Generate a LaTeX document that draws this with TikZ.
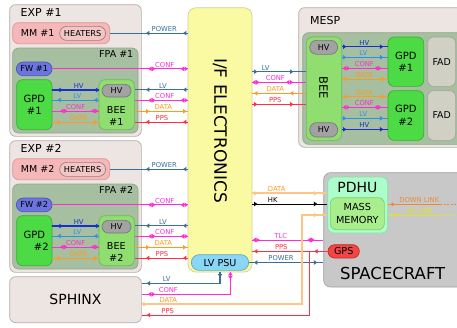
\documentclass[tikz,border=0pt]{standalone}
\usepackage{fontspec}
\setmainfont{DejaVu Sans}
\usetikzlibrary{arrows.meta,decorations.markings}

\definecolor{outerF}{HTML}{ECE5E2}\definecolor{outerD}{HTML}{B5ADAB}
\definecolor{mmF}{HTML}{F5B7B7}\definecolor{mmD}{HTML}{E09595}
\definecolor{htF}{HTML}{F3C6C6}\definecolor{htD}{HTML}{9A8080}
\definecolor{fpaF}{HTML}{A6BFA0}\definecolor{fpaD}{HTML}{8EAA88}
\definecolor{fwF}{HTML}{6C74E0}\definecolor{fwD}{HTML}{4C54B8}
\definecolor{gpdF}{HTML}{4DDB45}\definecolor{gpdD}{HTML}{38B032}
\definecolor{beeF}{HTML}{90DD70}\definecolor{beeD}{HTML}{6CBB55}
\definecolor{hvF}{HTML}{A2A2A2}\definecolor{hvD}{HTML}{7A7A7A}
\definecolor{ifF}{HTML}{FAFAA2}\definecolor{ifD}{HTML}{D2D296}
\definecolor{psuF}{HTML}{8AD6F6}\definecolor{psuD}{HTML}{5FA8CC}
\definecolor{fadF}{HTML}{D0D0C4}\definecolor{fadD}{HTML}{A5A59A}
\definecolor{scF}{HTML}{C8C8C8}\definecolor{scD}{HTML}{A2A2A2}
\definecolor{pdhuF}{HTML}{ABFDCB}\definecolor{pdhuD}{HTML}{8ADDAA}
\definecolor{mmemF}{HTML}{A8EE8C}\definecolor{mmemD}{HTML}{86CC6A}
\definecolor{gpsF}{HTML}{F24545}\definecolor{gpsD}{HTML}{C82828}
\definecolor{cPow}{HTML}{3B6F98}
\definecolor{cConf}{HTML}{FF2ED0}
\definecolor{cData}{HTML}{FF9A1E}
\definecolor{cDataL}{HTML}{FFC585}
\definecolor{cPps}{HTML}{FF3040}
\definecolor{cHv}{HTML}{1A2ED0}
\definecolor{cLv}{HTML}{2E90EE}
\definecolor{cDown}{HTML}{EE8A33}
\definecolor{cUp}{HTML}{E2E21E}

\newcommand\fsz[2]{\fontsize{#1}{#2}\selectfont}
\newcommand\arF{\arrow{Triangle[length=3.4pt,width=4.4pt]}}
\newcommand\arB{\arrow{Triangle[length=3.4pt,width=4.4pt,reversed]}}
\newcommand\arD{\arrow{Triangle[length=3.4pt,width=4.4pt,reversed]}\pgftransformxshift{3.8pt}\arrow{Triangle[length=3.4pt,width=4.4pt]}}
\newcommand\lab[5]{\node[lblst,text=#1] (#2) at (#3,#4-1.6) {#5};}

\tikzset{
 box/.style={draw,line width=0.7pt,rounded corners=5pt,inner sep=0pt,anchor=north west},
 outer/.style={fill=outerF,draw=outerD},
 mmst/.style={fill=mmF,draw=mmD},
 heat/.style={fill=htF,draw=htD},
 fpa/.style={fill=fpaF,draw=fpaD},
 fw/.style={fill=fwF,draw=fwD},
 gpd/.style={fill=gpdF,draw=gpdD},
 bee/.style={fill=beeF,draw=beeD},
 hvst/.style={fill=hvF,draw=hvD},
 ifst/.style={fill=ifF,draw=ifD},
 psu/.style={fill=psuF,draw=psuD},
 fad/.style={fill=fadF,draw=fadD},
 scst/.style={fill=scF,draw=scD},
 pdhu/.style={fill=pdhuF,draw=pdhuD},
 mmem/.style={fill=mmemF,draw=mmemD},
 gps/.style={fill=gpsF,draw=gpsD},
 ln/.style={line width=0.9pt},
 lnb/.style={line width=1.2pt},
 lnt/.style={line width=1.8pt},
 mk/.style n args={3}{postaction={decorate,decoration={markings,mark=at position #1 with {#3},mark=at position #2 with {#3}}}},
 mkone/.style 2 args={postaction={decorate,decoration={markings,mark=at position #1 with {#2}}}},
 lblst/.style={font=\fsz{6.8}{7},inner sep=0pt,anchor=base},
}

\begin{document}
\begin{tikzpicture}[x=1pt,y=-1pt]
\useasboundingbox (0,0) rectangle (457,327);
\fill[white] (0,0) rectangle (457,327);

% ---------- I/F electronics ----------
\node[box,ifst,minimum width=64pt,minimum height=264.4pt,rounded corners=8pt] (if) at (187.7,7.3) {};
\node[rotate=-90,inner sep=0pt,font=\fsz{17}{20}] (ift) at (220,130.5) {I/F ELECTRONICS};
\node[box,psu,minimum width=57.3pt,minimum height=15.7pt,rounded corners=7.8pt,font=\fsz{9.6}{11}] (psu) at (191,254.3) {LV PSU};

% ---------- EXP #1 / #2 ----------
\foreach \i/\o/\h in {1/0/0,2/136/14}{
\begin{scope}[shift={(0,\o)}]
\node[box,outer,minimum width=131.7pt,minimum height=131.7pt,rounded corners=6pt] (exp\i) at (9.3,4.3) {};
\node[anchor=base west,inner sep=0pt,font=\fsz{11}{13}] (expt\i) at (20.5,16) {EXP \#\i};
\node[box,mmst,minimum width=97pt,minimum height=21pt,rounded corners=6pt] (mm\i) at (12.3,22.3) {};
\node[anchor=base west,inner sep=0pt,font=\fsz{9.5}{11}] (mmt\i) at (20.7,36.7) {MM \#\i};
\node[box,heat,minimum width=46pt,minimum height=14pt,rounded corners=7pt,font=\fsz{8.2}{10}] (ht\i) at (59.3,26) {HEATERS};
\node[box,fpa,minimum width=125.4pt,minimum height=85pt,rounded corners=6pt] (fpa\i) at (12.3,47.7) {};
\node[anchor=base east,inner sep=0pt,font=\fsz{9.5}{11}] (fpat\i) at (133.5,57.3) {FPA \#\i};
\node[box,fw,minimum width=35.7pt,minimum height=13.6pt,rounded corners=6.8pt,font=\fsz{8.3}{10}] (fw\i) at (16,61.7) {FW \#\i};
\node[box,gpd,minimum width=35.4pt,minimum height=50pt,rounded corners=6pt,align=center,font=\fsz{10}{12.5}] (gpd\i) at (16.3,79.3) {GPD\\\hspace*{\h pt}\#\i};
\node[box,bee,minimum width=35.3pt,minimum height=50pt,rounded corners=6pt] (bee\i) at (98.7,79.3) {};
\node[align=center,inner sep=0pt,font=\fsz{9.6}{12}] (beet\i) at (116.3,115.5) {BEE\\\#\i};
\node[box,hvst,minimum width=29pt,minimum height=12.7pt,rounded corners=6.3pt,font=\fsz{8.1}{10}] (hv\i) at (101.7,84) {HV};
% external lines
\draw[cPow,lnb,mk={4.7pt}{41.7pt}{\arF}] (if.west |- mm\i.east) -- (mm\i.east);
\draw[cConf,ln,mk={3.2pt}{35.7pt}{\arD}] (if.west |- fw\i.east) -- (fw\i.east);
\draw[cPow,lnb,mk={4.7pt}{41.7pt}{\arF}] (if.west |- 0,89.7) -- (bee\i.east |- 0,89.7);
\draw[cConf,ln,mk={3.2pt}{35.7pt}{\arD}] (if.west |- 0,100.3) -- (bee\i.east |- 0,100.3);
\draw[cData,ln,mk={4.7pt}{41.7pt}{\arB}] (if.west |- 0,111.3) -- (bee\i.east |- 0,111.3);
\draw[cPps,ln,mk={4.7pt}{41.7pt}{\arF}] (if.west |- 0,122) -- (bee\i.east |- 0,122);
% internal lines
\draw[cHv,lnb,mk={4.7pt}{41.4pt}{\arF}] (bee\i.west |- 0,90) -- (gpd\i.east |- 0,90);
\draw[cLv,ln,mk={4.7pt}{41.4pt}{\arF}] (bee\i.west |- 0,100) -- (gpd\i.east |- 0,100);
\draw[cConf,ln,mk={3.7pt}{34.7pt}{\arD}] (bee\i.west |- 0,111) -- (gpd\i.east |- 0,111);
\draw[cData,ln,mk={4.7pt}{41.4pt}{\arB}] (bee\i.west |- 0,122) -- (gpd\i.east |- 0,122);
% labels
\lab{cPow}{lp\i}{164.3}{32.7}{POWER}
\lab{cConf}{lcf\i}{164.7}{68.7}{CONF}
\lab{cPow}{llv\i}{163}{89.7}{LV}
\lab{cConf}{lcb\i}{164.7}{100.3}{CONF}
\lab{cData}{ldb\i}{163.3}{111.3}{DATA}
\lab{cPps}{lpp\i}{162}{122}{PPS}
\lab{cHv}{ihv\i}{78.7}{90}{HV}
\lab{cLv}{ilv\i}{77.3}{100}{LV}
\lab{cConf}{icf\i}{75.7}{111}{CONF}
\lab{cData}{idt\i}{78.7}{122}{DATA}
\end{scope}
}

% ---------- SPHINX ----------
\node[box,outer,minimum width=131.7pt,minimum height=46pt,rounded corners=6pt,font=\fsz{14}{16}] (sphinx) at (9.3,276.3) {SPHINX};

% ---------- MESP ----------
\node[box,outer,minimum width=180pt,minimum height=139.7pt,rounded corners=6pt] (mesp) at (298.3,7.3) {};
\node[anchor=base west,inner sep=0pt,font=\fsz{11}{13}] (mespt) at (310,24.7) {MESP};
\node[box,fpa,minimum width=170pt,minimum height=111.7pt,rounded corners=6pt] (mfpa) at (302.3,32.3) {};
\node[box,bee,minimum width=35.3pt,minimum height=103.3pt,rounded corners=6pt] (mbee) at (306,36.7) {};
\node[rotate=-90,inner sep=0pt,font=\fsz{11.5}{13}] (mbeet) at (323.6,88) {BEE};
\node[box,hvst,minimum width=28pt,minimum height=14pt,rounded corners=7pt,font=\fsz{8.1}{10}] (mhv1) at (309.3,40) {HV};
\node[box,hvst,minimum width=28pt,minimum height=14.4pt,rounded corners=7pt,font=\fsz{8.1}{10}] (mhv2) at (309.3,122.3) {HV};
\node[box,gpd,minimum width=35.6pt,minimum height=49.3pt,rounded corners=6pt,align=center,font=\fsz{10}{12.5}] (mgpd1) at (387.7,36.7) {GPD\\\#1};
\node[box,gpd,minimum width=35.6pt,minimum height=49.7pt,rounded corners=6pt,align=center,font=\fsz{10}{12.5}] (mgpd2) at (387.7,90.3) {GPD\\\#2};
\node[box,fad,minimum width=28pt,minimum height=49.3pt,rounded corners=6pt,font=\fsz{9.4}{11}] (fad1) at (427.3,36.7) {FAD};
\node[box,fad,minimum width=28pt,minimum height=49.7pt,rounded corners=6pt,font=\fsz{9.4}{11}] (fad2) at (427.3,90.3) {FAD};

\draw[cHv,lnb,mk={4.4pt}{-4.4pt}{\arF}] (mbee.east |- 0,46.7) -- (mgpd1.west |- 0,46.7);
\draw[cLv,ln,mk={4.4pt}{-4.4pt}{\arF}] (mbee.east |- 0,57.3) -- (mgpd1.west |- 0,57.3);
\draw[cConf,ln,mk={4.2pt}{35.7pt}{\arD}] (mbee.east |- 0,68.3) -- (mgpd1.west |- 0,68.3);
\draw[cData,ln,mk={4.4pt}{-4.4pt}{\arB}] (mbee.east |- 0,79) -- (mgpd1.west |- 0,79);
\draw[cData,ln,mk={4.4pt}{-4.4pt}{\arB}] (mbee.east |- 0,96.7) -- (mgpd2.west |- 0,96.7);
\draw[cConf,ln,mk={4.2pt}{35.7pt}{\arD}] (mbee.east |- 0,107.3) -- (mgpd2.west |- 0,107.3);
\draw[cLv,ln,mk={4.4pt}{-4.4pt}{\arF}] (mbee.east |- 0,118.3) -- (mgpd2.west |- 0,118.3);
\draw[cHv,lnb,mk={4.4pt}{-4.4pt}{\arF}] (mbee.east |- 0,129.3) -- (mgpd2.west |- 0,129.3);

\draw[cPow,lnb,mk={5pt}{41pt}{\arF}] (if.east |- 0,71.7) -- (mbee.west |- 0,71.7);
\draw[cConf,ln,mk={3.2pt}{37pt}{\arD}] (if.east |- 0,82.3) -- (mbee.west |- 0,82.3);
\draw[cData,ln,mk={5pt}{41pt}{\arB}] (if.east |- 0,93.3) -- (mbee.west |- 0,93.3);
\draw[cPps,ln,mk={5pt}{41pt}{\arF}] (if.east |- 0,104.3) -- (mbee.west |- 0,104.3);

\lab{cHv}{mh1}{364.3}{46.7}{HV}
\lab{cLv}{ml1}{363.3}{57.3}{LV}
\lab{cConf}{mc1}{364.3}{68.3}{CONF}
\lab{cData}{md1}{364.3}{79}{DATA}
\lab{cData}{md2}{364.3}{96.7}{DATA}
\lab{cConf}{mc2}{364.3}{107.3}{CONF}
\lab{cLv}{ml2}{363.3}{118.3}{LV}
\lab{cHv}{mh2}{364.3}{129.3}{HV}
\lab{cPow}{xl}{265.7}{71.7}{LV}
\lab{cConf}{xc}{275.3}{82.3}{CONF}
\lab{cData}{xd}{275.3}{93.3}{DATA}
\lab{cPps}{xp}{275.3}{104.3}{PPS}

% ---------- SPACECRAFT ----------
\node[box,scst,minimum width=150pt,minimum height=114.4pt,rounded corners=7pt] (sc) at (323.3,172.3) {};
\node[anchor=base,inner sep=0pt,font=\fsz{16.5}{19}] (sct) at (392.7,279.3) {SPACECRAFT};
\node[box,pdhu,minimum width=60pt,minimum height=56pt,rounded corners=6pt] (pdhu) at (327.3,176.7) {};
\node[anchor=base,inner sep=0pt,font=\fsz{14}{16}] (pdhut) at (357.3,192.7) {PDHU};
\node[box,mmem,minimum width=54pt,minimum height=32pt,rounded corners=6pt,align=center,font=\fsz{9.7}{12.7}] (mmem) at (330,197.3) {MASS\\MEMORY};
\node[box,gps,minimum width=31.3pt,minimum height=13.4pt,rounded corners=6.7pt,font=\fsz{9.6}{11}] (gps) at (327.7,244.3) {GPS};

\coordinate (dlm) at (440,204.3);
\coordinate (dle) at (457,204.3);
\coordinate (ulm) at (440,215);
\coordinate (ule) at (457,215);
\draw[cDown,ln,mkone={7pt}{\arF}] (pdhu.east |- dlm) -- (dlm);
\draw[cDown,ln,dashed,dash pattern=on 2pt off 1.5pt] (dlm) -- (dle);
\draw[cUp,ln,mkone={-5pt}{\arF}] (ulm) -- (pdhu.east |- ulm);
\draw[cUp,ln,dashed,dash pattern=on 2pt off 1.5pt] (ulm) -- (ule);
\lab{cDown}{ldl}{419.3}{204.3}{DOWN LINK}
\lab{cUp}{lul}{419.3}{215}{UP LINK}

\draw[cDataL,lnt,mk={5pt}{-10pt}{\arF}] (if.east |- 0,193.3) -- (pdhu.west |- 0,193.3);
\draw[black,ln,mk={5pt}{-10pt}{\arF}] (if.east |- 0,204) -- (pdhu.west |- 0,204);
\draw[cConf,ln,mk={3.5pt}{-12.5pt}{\arD}] (if.east |- 0,240) -- (sc.west |- 0,240);
\draw[cPps,ln,mk={5pt}{-10pt}{\arB}] (if.east |- gps.west) -- (gps.west);
\draw[cPow,lnb,mkone={8.4pt}{\arB},mkone={-6pt}{\arF}] (psu.east) -- (sc.west |- psu.east);
\lab{cData}{sd}{276.7}{193.3}{DATA}
\lab{black}{sh}{272.7}{204}{HK}
\lab{cConf}{st}{280.7}{240}{TLC}
\lab{cPps}{sp}{281.3}{250.7}{PPS}
\lab{cPow}{spw}{281}{261.7}{POWER}

% ---------- SPHINX lines ----------
\coordinate (ppsj) at (309.3,250.7);
\draw[cPow,lnb,mk={5pt}{-5pt}{\arF}] (if.south) |- (sphinx.east |- 0,283.3);
\draw[cConf,ln,mk={3pt}{-10pt}{\arD}] ([xshift=10.3pt]if.south) |- (sphinx.east |- 0,294.3);
\draw[cDataL,lnt,mk={5pt}{-10pt}{\arF}] (sphinx.east |- 0,304.3) -| (302.3,215) -- (pdhu.west |- 0,215);
\draw[cPps,ln,mkone={-5pt}{\arF}] (ppsj) |- (sphinx.east |- 0,315);
\lab{cPow}{hl}{166.7}{283.3}{LV}
\lab{cConf}{hc}{168.3}{294.3}{CONF}
\lab{cData}{hd}{168.3}{304.3}{DATA}
\lab{cPps}{hp}{167.7}{315}{PPS}
\end{tikzpicture}
\end{document}
